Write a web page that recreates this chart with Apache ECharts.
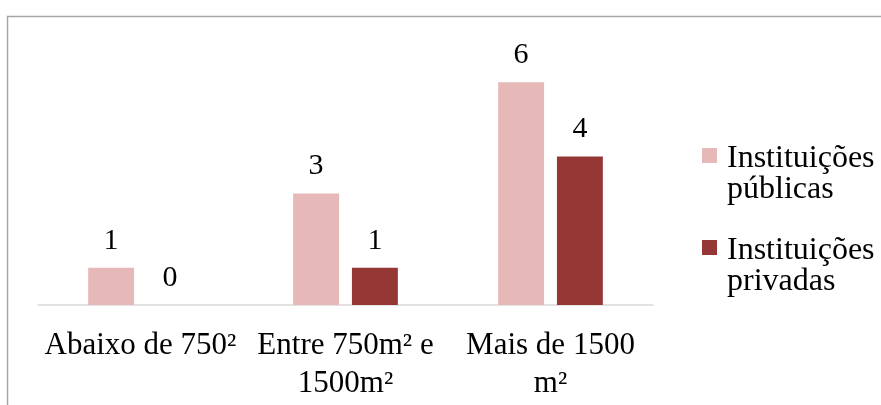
<!DOCTYPE html>
<html>
<head>
<meta charset="utf-8">
<script src="https://cdn.jsdelivr.net/npm/echarts@6/dist/echarts.min.js"></script>
<style>
html,body{margin:0;padding:0;background:#fff;}
#chart{width:881px;height:405px;}
</style>
</head>
<body>
<div id="chart"></div>
<script>
var categories = ['Abaixo de 750²', 'Entre 750m² e\n1500m²', 'Mais de 1500\nm²'];
var seriesNames = ['Instituições públicas', 'Instituições privadas'];
var legendLabels = ['Instituições\npúblicas', 'Instituições\nprivadas'];
var publicValues = [1, 3, 6];
var privateValues = [0, 1, 4];

var FONT = '"Liberation Serif", "Times New Roman", serif';
var chart = echarts.init(document.getElementById('chart'), null, {renderer: 'canvas'});

var labelCfg = {
  show: true, position: 'top', distance: 12,
  color: '#000', fontFamily: FONT, fontSize: 30
};

chart.setOption({
  animation: false,
  backgroundColor: '#fff',
  graphic: [{
    type: 'rect', left: 5, top: 14, z: -1,
    shape: {x: 0, y: 0, width: 1000, height: 600},
    style: {fill: 'none', stroke: '#A6A6A6', lineWidth: 1.5}
  }],
  grid: {left: 38, right: 228, top: 45, bottom: 100, containLabel: false},
  legend: {
    orient: 'vertical',
    left: 697, top: 138,
    itemWidth: 15, itemHeight: 53,
    itemGap: 29,
    icon: 'path://M0,0L15,0L15,15L0,15Z M0,53L0.01,53',
    data: seriesNames,
    formatter: function (name) { return legendLabels[seriesNames.indexOf(name)]; },
    textStyle: {color: '#000', fontFamily: FONT, fontSize: 32, lineHeight: 31, padding: [0, 0, 0, 5]}
  },
  xAxis: {
    type: 'category',
    data: categories,
    axisLine: {lineStyle: {color: '#D9D9D9', width: 1.5}},
    axisTick: {show: false},
    axisLabel: {interval: 0, color: '#000', fontFamily: FONT, fontSize: 31, lineHeight: 38, margin: 22}
  },
  yAxis: {
    type: 'value', min: 0, max: 7, interval: 1,
    show: false,
    splitLine: {show: false}
  },
  series: [
    {name: seriesNames[0], type: 'bar', data: publicValues, barWidth: '22.4%', barGap: '28%',
     itemStyle: {color: '#E6B9B8'}, label: labelCfg},
    {name: seriesNames[1], type: 'bar', data: privateValues, barWidth: '22.4%', barGap: '28%',
     itemStyle: {color: '#953735'}, label: labelCfg}
  ]
});
</script>
</body>
</html>
